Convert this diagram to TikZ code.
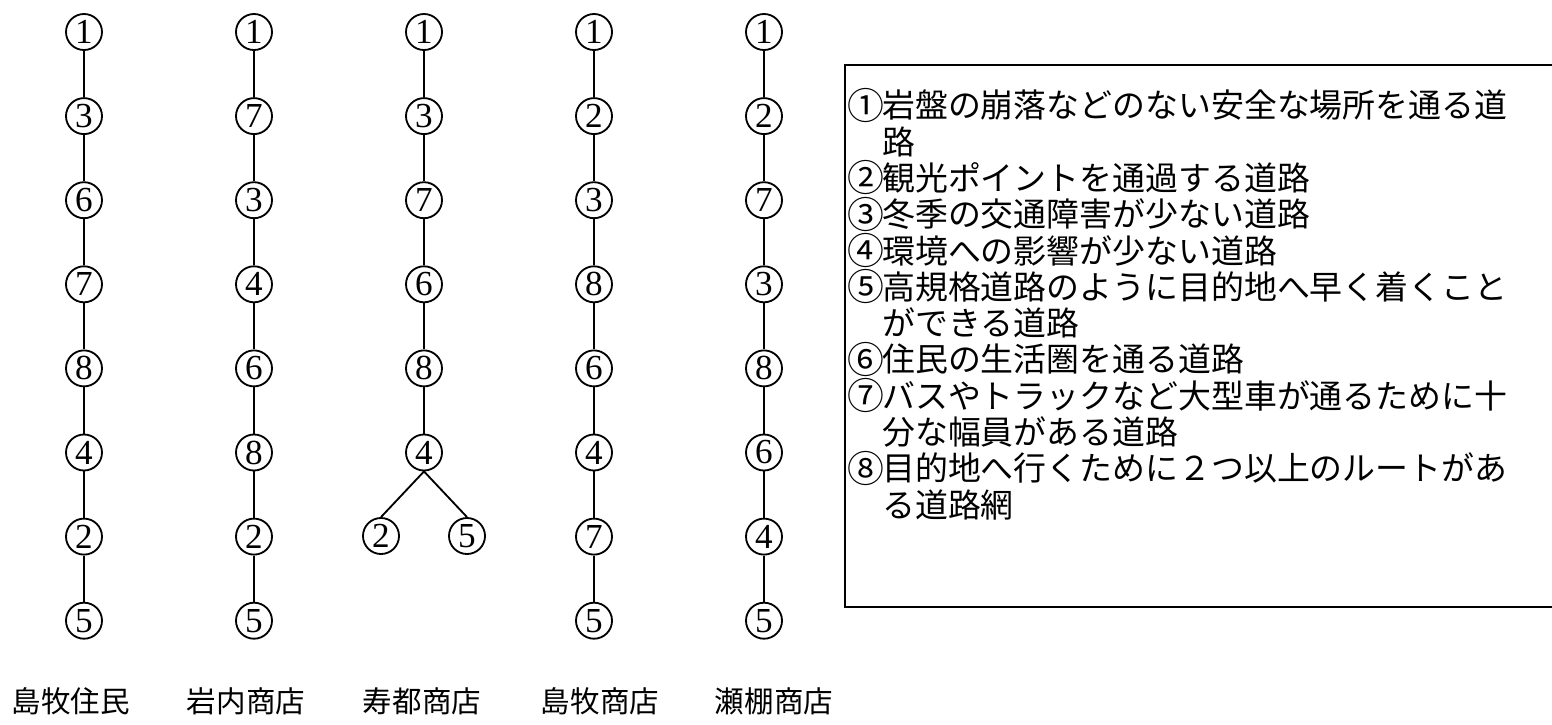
\documentclass[tikz,border=0pt]{standalone}
\usepackage{fontspec}
\usepackage{graphicx}
\setmainfont{Liberation Serif}
\newfontfamily\jpfont{Noto Sans CJK JP}
\usetikzlibrary{positioning}
\newcommand\keyno[1]{\makebox[1em]{\smash{\raisebox{-0.04em}{\scalebox{1.12}{#1}}}}}
\tikzset{
  rank/.style={circle, draw, line width=1.3pt, minimum size=0.9cm,
               inner sep=0pt, font=\fontsize{25}{25}\selectfont},
  link/.style={draw, line width=1.3pt},
  shop/.style={font=\jpfont\fontsize{21}{21}\selectfont, inner sep=0pt},
  legend/.style={anchor=north west, align=left, inner sep=0pt,
                 font=\jpfont\fontsize{23.4}{25.8}\selectfont},
  frame/.style={draw, line width=1.3pt},
}

\begin{document}
\begin{tikzpicture}[x=0.025cm, y=-0.025cm]
  \useasboundingbox (0,0) rectangle (1552,724);
  % plain chains
  \foreach \c/\x/\seq in {a/84/{1,3,6,7,8,4,2,5}, b/254/{1,7,3,4,6,8,2,5},
                          d/594/{1,2,3,8,6,4,7,5}, e/764/{1,2,7,3,8,6,4,5}} {
    \foreach \d [count=\r] in \seq
      \node[rank] (\c\r) at (\x,{32+84.1*(\r-1)}) {\d};
    \foreach \r [remember=\r as \q (initially 1)] in {2,...,8}
      \draw[link] (\c\q) -- (\c\r);
  }
  % chain that forks at the end
  \foreach \d [count=\r] in {1,3,7,6,8,4}
    \node[rank] (c\r) at (424,{32+84.1*(\r-1)}) {\d};
  \foreach \r [remember=\r as \q (initially 1)] in {2,...,6}
    \draw[link] (c\q) -- (c\r);
  \node[rank] (c7l) at (381,536) {2};
  \node[rank] (c7r) at (467,536) {5};
  \draw[link] (c6.south) -- (c7l.north);
  \draw[link] (c6.south) -- (c7r.north);

  \node[shop] (sa) at (71,701)  {島牧住民};
  \node[shop] (sb) at (246,701) {岩内商店};
  \node[shop] (sc) at (422,701) {寿都商店};
  \node[shop] (sd) at (600,701) {島牧商店};
  \node[shop] (se) at (774,701) {瀬棚商店};

  % key box, open on the right
  \coordinate (ktr) at (1552,65);
  \coordinate (kbl) at (845,607);
  \coordinate (kbr) at (1552,607);
  \draw[frame] (ktr) -| (kbl) -- (kbr);
  \node[legend] (key) at (849,90) {\keyno{①}岩盤の崩落などのない安全な場所を通る道\\
    \hspace*{1em}路\\
    \keyno{②}観光ポイントを通過する道路\\
    \keyno{③}冬季の交通障害が少ない道路\\
    \keyno{④}環境への影響が少ない道路\\
    \keyno{⑤}高規格道路のように目的地へ早く着くこと\\
    \hspace*{1em}ができる道路\\
    \keyno{⑥}住民の生活圏を通る道路\\
    \keyno{⑦}バスやトラックなど大型車が通るために十\\
    \hspace*{1em}分な幅員がある道路\\
    \keyno{⑧}目的地へ行くために２つ以上のルートがあ\\
    \hspace*{1em}る道路網};
\end{tikzpicture}
\end{document}
